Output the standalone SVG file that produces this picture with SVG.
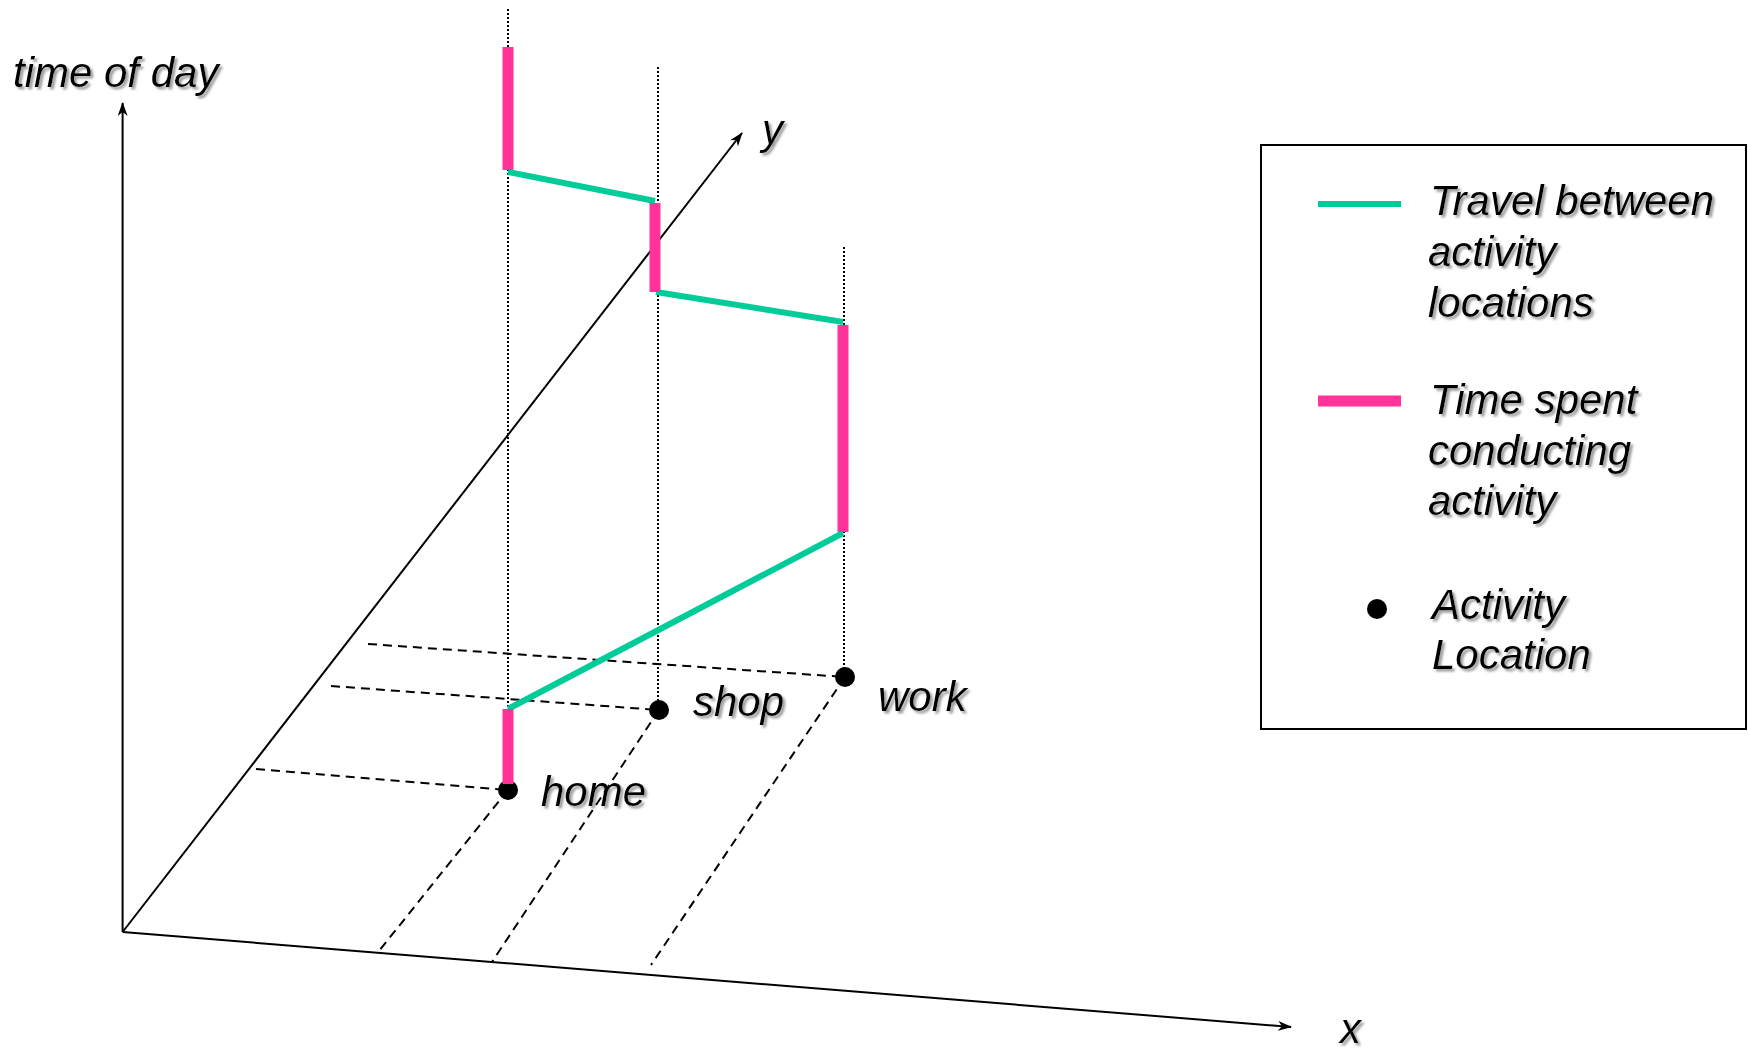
<svg xmlns="http://www.w3.org/2000/svg" width="1748" height="1051" viewBox="0 0 1748 1051">
  <defs>
    <marker id="arr" viewBox="0 0 14 10" refX="13" refY="5" markerWidth="14" markerHeight="10" markerUnits="userSpaceOnUse" orient="auto">
      <path d="M0,0 L14,5 L0,10 L4,5 z" fill="#000"/>
    </marker>
    <filter id="shadow" x="-10%" y="-10%" width="130%" height="140%">
      <feDropShadow dx="2.5" dy="2.5" stdDeviation="0.8" flood-color="#9a9a9a" flood-opacity="1"/>
    </filter>
  </defs>
  <style>
    .lbl { font-family: "Liberation Sans", Arial, sans-serif; font-style: italic; font-size: 42px; fill: #000; filter: url(#shadow); }
    .axis { stroke: #000; stroke-width: 2; fill: none; }
    .dot { stroke: #000; stroke-width: 2; stroke-dasharray: 2 2; fill: none; }
    .dash { stroke: #000; stroke-width: 2; stroke-dasharray: 9 6; fill: none; }
    .travel { stroke: #00CC99; stroke-width: 6; fill: none; }
    .stay { stroke: #FF3399; stroke-width: 11; fill: none; }
    .loc { fill: #000; }
  </style>
  <rect width="1748" height="1051" fill="#fff"/>

  <g id="axes">
    <line class="axis" x1="122.6" y1="932" x2="122.6" y2="103" marker-end="url(#arr)"/>
    <line class="axis" x1="122.6" y1="932" x2="742" y2="133" marker-end="url(#arr)"/>
    <line class="axis" x1="122.6" y1="932" x2="1291" y2="1027" stroke-width="2.5" marker-end="url(#arr)"/>
    <text class="lbl" x="13" y="87">time of day</text>
    <text class="lbl" x="762" y="144">y</text>
    <text class="lbl" x="1340" y="1043">x</text>
  </g>

  <g id="node-home">
    <line class="dot" x1="508" y1="9" x2="508" y2="790"/>
    <line class="dash" x1="256" y1="769" x2="508" y2="790"/>
    <line class="dash" x1="508" y1="790" x2="379" y2="951"/>
    <circle class="loc" cx="508" cy="790" r="10"/>
    <text class="lbl" x="541" y="806">home</text>
  </g>

  <g id="node-shop">
    <line class="dot" x1="658" y1="67" x2="658" y2="710"/>
    <line class="dash" x1="331" y1="686" x2="659" y2="710"/>
    <line class="dash" x1="659" y1="710" x2="492" y2="962"/>
    <circle class="loc" cx="659" cy="710" r="10"/>
    <text class="lbl" x="693" y="716">shop</text>
  </g>

  <g id="node-work">
    <line class="dot" x1="844" y1="247" x2="844" y2="677"/>
    <line class="dash" x1="368" y1="644" x2="845" y2="677"/>
    <line class="dash" x1="845" y1="677" x2="651" y2="965"/>
    <circle class="loc" cx="845" cy="677" r="10"/>
    <text class="lbl" x="878" y="711">work</text>
  </g>

  <g id="connectors">
    <line class="travel" x1="508" y1="172" x2="655" y2="201"/>
    <line class="travel" x1="656" y1="292" x2="843" y2="322"/>
    <line class="travel" x1="843" y1="533" x2="508" y2="709"/>
    <line class="stay" x1="508" y1="47" x2="508" y2="170"/>
    <line class="stay" x1="655" y1="203" x2="655" y2="292"/>
    <line class="stay" x1="843" y1="325" x2="843" y2="532"/>
    <line class="stay" x1="508" y1="709" x2="508" y2="784"/>
  </g>

  <g id="legend">
    <rect x="1261" y="145" width="485" height="584" fill="none" stroke="#000" stroke-width="2"/>
    <line class="travel" x1="1318" y1="204" x2="1401" y2="204"/>
    <line class="stay" x1="1318" y1="401" x2="1401" y2="401" stroke-width="10"/>
    <circle class="loc" cx="1377" cy="609" r="10"/>
    <text class="lbl" x="1430" y="215">Travel between</text>
    <text class="lbl" x="1428" y="266">activity</text>
    <text class="lbl" x="1428" y="317">locations</text>
    <text class="lbl" x="1430" y="414">Time spent</text>
    <text class="lbl" x="1428" y="465">conducting</text>
    <text class="lbl" x="1428" y="515">activity</text>
    <text class="lbl" x="1432" y="619">Activity</text>
    <text class="lbl" x="1432" y="669">Location</text>
  </g>
</svg>
